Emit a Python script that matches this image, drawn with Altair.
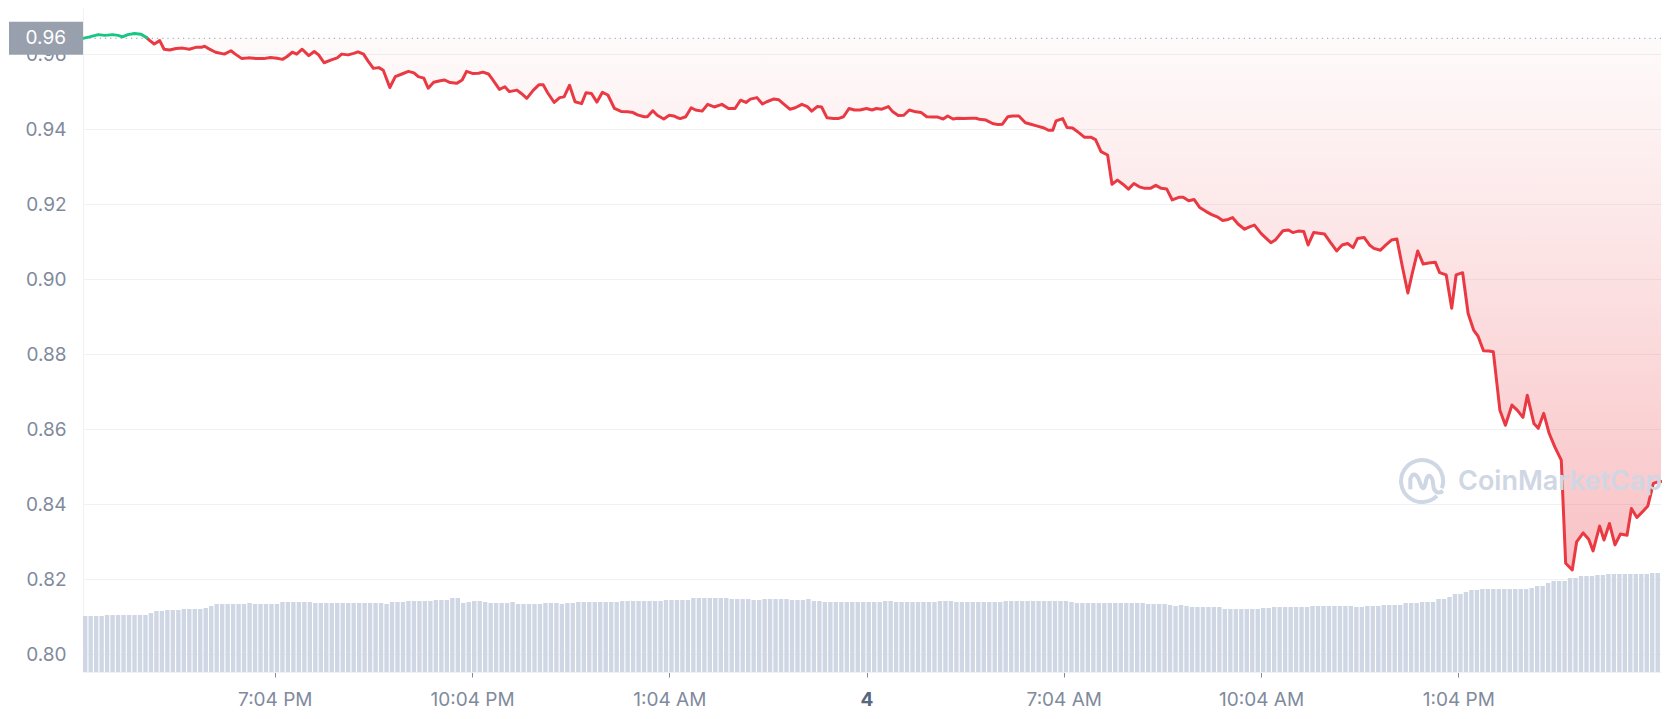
import json
import numpy as np
import pandas as pd
import altair as alt

# ---------------- data ----------------
START = "2022-05-03 16:09:00"          # left edge of the 24h window
END = "2022-05-04 16:09:00"            # right edge
REF_PRICE = 0.9642                     # opening price (dotted line / grey tag)

PRICE_MINUTES = [
    0, 6, 14, 20, 27, 32, 36, 41, 47, 53, 58, 61, 65, 70, 74, 79, 85, 91, 97, 103,
    108, 111, 115, 121, 129, 135, 139, 145, 151, 158, 165, 171, 177, 182, 186, 191,
    195, 200, 206, 211, 215, 220, 226, 232, 236, 242, 247, 251, 256, 260, 265, 270,
    274, 280, 285, 291, 297, 302, 306, 311, 315, 320, 326, 330, 335, 341, 346, 350,
    356, 361, 365, 370, 374, 380, 385, 389, 396, 400, 405, 411, 416, 420, 424, 430,
    435, 439, 444, 449, 455, 459, 464, 469, 474, 479, 485, 491, 497, 502, 506, 512,
    515, 520, 524, 530, 535, 539, 542, 545, 550, 555, 559, 565, 570, 576, 583, 589,
    595, 600, 605, 609, 615, 620, 624, 630, 635, 639, 645, 650, 656, 661, 665, 670,
    674, 679, 685, 689, 694, 699, 704, 709, 715, 720, 724, 729, 735, 739, 744, 749,
    754, 760, 765, 770, 776, 780, 785, 789, 794, 798, 804, 810, 815, 818, 824, 830,
    835, 839, 844, 848, 854, 860, 865, 871, 877, 881, 885, 888, 894, 898, 903, 909,
    914, 920, 924, 929, 935, 939, 944, 949, 954, 959, 964, 969, 974, 979, 984, 989,
    994, 1000, 1004, 1009, 1014, 1019, 1025, 1030, 1035, 1040, 1045, 1049, 1054, 1060,
    1065, 1069, 1075, 1080, 1084, 1088, 1095, 1100, 1104, 1109, 1114, 1118, 1123, 1128,
    1133, 1138, 1144, 1149, 1154, 1159, 1163, 1169, 1174, 1178, 1184, 1189, 1194, 1199,
    1204, 1209, 1213, 1218, 1223, 1228, 1234, 1238, 1244, 1249, 1253, 1259, 1264, 1269,
    1273, 1278, 1283, 1287, 1293, 1298, 1304, 1309, 1314, 1318, 1324, 1328, 1333, 1338,
    1343, 1349, 1353, 1359, 1363, 1369, 1374, 1378, 1384, 1388, 1393, 1398, 1403, 1409,
    1413, 1418, 1423, 1428, 1433, 1437, 1440,
]
PRICE_VALUES = [
    0.9642, 0.9646, 0.9652, 0.9650, 0.9652, 0.9650, 0.9646, 0.9652, 0.9655, 0.9653,
    0.9644, 0.9636, 0.9627, 0.9636, 0.9613, 0.9611, 0.9615, 0.9616, 0.9613, 0.9618,
    0.9618, 0.9621, 0.9614, 0.9605, 0.9600, 0.9609, 0.9600, 0.9588, 0.9590, 0.9588,
    0.9588, 0.9591, 0.9589, 0.9586, 0.9593, 0.9605, 0.9600, 0.9613, 0.9596, 0.9607,
    0.9598, 0.9577, 0.9584, 0.9590, 0.9600, 0.9598, 0.9602, 0.9606, 0.9600, 0.9582,
    0.9562, 0.9564,
    0.9557, 0.9511, 0.9540, 0.9547, 0.9554, 0.9550, 0.9540, 0.9536, 0.9509, 0.9525,
    0.9529, 0.9531, 0.9524, 0.9522, 0.9531, 0.9554, 0.9548, 0.9549, 0.9552, 0.9547,
    0.9531, 0.9506, 0.9513, 0.9500, 0.9504, 0.9495, 0.9482, 0.9504, 0.9518, 0.9518,
    0.9497, 0.9471, 0.9484, 0.9486, 0.9517, 0.9473, 0.9468, 0.9497, 0.9495, 0.9472,
    0.9498, 0.9491, 0.9455, 0.9447, 0.9446, 0.9444, 0.9438, 0.9433, 0.9433, 0.9449,
    0.9437, 0.9427, 0.9437, 0.9435, 0.9431,
    0.9428, 0.9433, 0.9457, 0.9451, 0.9448, 0.9466, 0.9459, 0.9466, 0.9455, 0.9455,
    0.9477, 0.9471, 0.9480, 0.9484, 0.9467, 0.9473, 0.9480, 0.9478, 0.9468, 0.9453,
    0.9457, 0.9466, 0.9460, 0.9448, 0.9460, 0.9459, 0.9430, 0.9428, 0.9428, 0.9433,
    0.9455, 0.9451, 0.9451, 0.9455, 0.9451, 0.9455, 0.9453, 0.9460, 0.9446, 0.9436,
    0.9437, 0.9451, 0.9446, 0.9444, 0.9433, 0.9432, 0.9432, 0.9427, 0.9435, 0.9427,
    0.9429, 0.9428, 0.9429, 0.9429,
    0.9426, 0.9424, 0.9415, 0.9412, 0.9413, 0.9433, 0.9435, 0.9435, 0.9417, 0.9413,
    0.9408, 0.9403, 0.9397, 0.9397, 0.9422, 0.9428, 0.9404, 0.9403, 0.9390, 0.9378,
    0.9378, 0.9372, 0.9340, 0.9331, 0.9253, 0.9264, 0.9253, 0.9240, 0.9255, 0.9246,
    0.9242, 0.9242, 0.9250, 0.9242, 0.9240, 0.9211, 0.9218, 0.9218, 0.9209, 0.9212,
    0.9191, 0.9180, 0.9172, 0.9166, 0.9156, 0.9159, 0.9164, 0.9147, 0.9133, 0.9140,
    0.9144, 0.9122, 0.9108, 0.9097, 0.9104,
    0.9129, 0.9131, 0.9124, 0.9128, 0.9127, 0.9091, 0.9124, 0.9122, 0.9120, 0.9099,
    0.9075, 0.9091, 0.9095, 0.9084, 0.9108, 0.9111, 0.9091, 0.9082, 0.9077, 0.9091,
    0.9104, 0.9107, 0.9033, 0.8963, 0.9015, 0.9075, 0.9040, 0.9043, 0.9045, 0.9017,
    0.9011, 0.8922, 0.9011, 0.9017, 0.8908, 0.8864, 0.8848, 0.8809, 0.8808, 0.8806,
    0.8650, 0.8610, 0.8664, 0.8650, 0.8631, 0.8690, 0.8615, 0.8602, 0.8642, 0.8588,
    0.8553, 0.8517, 0.8242, 0.8224, 0.8299, 0.8323, 0.8306, 0.8275, 0.8341, 0.8304,
    0.8348, 0.8291, 0.8320, 0.8317, 0.8388, 0.8364, 0.8379, 0.8395, 0.8455, 0.8459,
    0.8460,
]

# relative trading volume, one bar every 5 minutes (288 bars)
VOLUME = [
    56, 56, 56, 56, 57, 57, 57, 57, 57, 57, 57, 57, 59, 61, 61, 62, 62, 62, 63, 63, 63, 63, 64, 66,
    68, 68, 68, 68, 68, 68, 69, 68, 68, 68, 68, 68, 70, 70, 70, 70, 70, 70,
    69, 69, 69, 69, 69, 69, 69, 69, 69, 69, 69, 69, 69, 68, 70, 70, 70,
    71, 71, 71, 71, 71, 72, 72, 72, 74, 74, 69, 70, 71, 71, 70, 69, 69, 69, 69, 70,
    68, 68, 68, 68, 68, 69, 69, 69, 68, 69, 69, 70, 70, 70, 70, 70, 70, 70, 70,
    71, 71, 71, 71, 71, 71, 71, 71,
    72, 72, 72, 72, 72, 74, 74, 74, 74, 74, 74, 74, 73, 73, 73, 73, 72, 72,
    73, 73, 73, 73, 73, 72, 72, 72, 73, 71, 71,
    70, 70, 70, 70, 70, 70, 70, 70, 70, 70, 70, 71, 71, 70, 70, 70, 70, 70, 70, 70, 70,
    71, 71, 71, 70, 70, 70, 70, 70, 70, 70, 70, 70,
    71, 71, 71, 71, 71, 71, 71, 71, 71, 71, 71, 71, 70,
    69, 69, 69, 69, 69, 69, 69, 69, 69, 69, 69, 69, 69, 68, 68, 68, 68, 67, 66, 67, 66,
    65, 65, 65, 65, 65, 65, 63, 63, 63, 63, 63, 63, 63, 64, 64,
    65, 65, 65, 65, 65, 65, 65, 66, 66, 66, 66, 66, 66, 66, 66, 65, 65, 66, 66, 66,
    67, 67, 67, 67, 69, 69, 69, 70, 70, 70,
    73, 73, 75, 78, 78, 80, 82, 82, 83, 83, 83, 83, 83, 83, 83, 83, 83, 84, 86, 86, 89,
    91, 91, 91, 94, 94, 96, 96, 96, 97, 97, 98, 98, 98, 98, 98, 98, 98, 98, 99, 99,
]
VOLUME_STEP_MIN = 5

TICK_TIMES = ["2022-05-03 19:04", "2022-05-03 22:04", "2022-05-04 01:04", "2022-05-04 04:04",
              "2022-05-04 07:04", "2022-05-04 10:04", "2022-05-04 13:04"]
TICK_LABELS = ["7:04 PM", "10:04 PM", "1:04 AM", "4", "7:04 AM", "10:04 AM", "1:04 PM"]
PRICE_TICKS = [0.80, 0.82, 0.84, 0.86, 0.88, 0.90, 0.92, 0.94, 0.96]
Y_DOMAIN = [0.7952, 0.9723]

# ---------------- styling ----------------
RED = "#ea3943"
GREEN = "#16c784"
GREY_TXT = "#808a9d"
GRID = "#eff2f5"
FONT = "Inter"
W, H = 1578, 664

start = pd.Timestamp(START)
end = pd.Timestamp(END)

df = pd.DataFrame({"minute": PRICE_MINUTES, "price": PRICE_VALUES})
df["time"] = start + pd.to_timedelta(df["minute"], unit="m")
below = np.where(df["price"].values < REF_PRICE)[0]
split = int(below[0])
green_df = df.iloc[:split][["time", "price"]]
red_df = df.iloc[split - 1:][["time", "price"]]
area_df = df[["time", "price"]]

vol_df = pd.DataFrame({"volume": VOLUME})
vol_df["time"] = start + pd.to_timedelta(np.arange(len(VOLUME)) * VOLUME_STEP_MIN, unit="m")
vol_df["time_end"] = vol_df["time"] + pd.to_timedelta(4, unit="m")

ref_df = pd.DataFrame({"ref": [REF_PRICE]})


def dt(ts):
    t = pd.Timestamp(ts)
    return alt.DateTime(year=t.year, month=t.month, date=t.day, hours=t.hour, minutes=t.minute)


x_scale = alt.Scale(domain=[dt(start), dt(end)])
y_scale = alt.Scale(domain=Y_DOMAIN, nice=False, zero=False)

keys = [pd.Timestamp(t).strftime("%H:%M") for t in TICK_TIMES]
label_expr = (f"{json.dumps(TICK_LABELS)}[indexof({json.dumps(keys)}, "
              f"timeFormat(datum.value, '%H:%M'))]")
bold_test = "timeFormat(datum.value, '%H:%M') == '04:04'"

X_AXIS = alt.Axis(
    values=[dt(t) for t in TICK_TIMES], labelExpr=label_expr, title=None, grid=False,
    domain=True, domainColor=GRID, ticks=True, tickColor=GREY_TXT, tickSize=5,
    labelFont=FONT, labelFontSize=19, labelPadding=13, labelFlush=False,
    labelColor={"condition": {"test": bold_test, "value": "#58667e"}, "value": GREY_TXT},
    labelFontWeight={"condition": {"test": bold_test, "value": "bold"}, "value": "normal"},
)
Y_AXIS = alt.Axis(
    values=PRICE_TICKS, format=".2f", title=None, grid=True, gridColor=GRID,
    ticks=False, tickSize=0, domain=True, domainColor=GRID,
    labelFont=FONT, labelFontSize=19, labelColor=GREY_TXT, labelPadding=17,
)

X = alt.X("time:T", scale=x_scale, axis=X_AXIS)

volume = alt.Chart(vol_df).mark_rect(color="#cfd6e4").encode(
    x=X,
    x2="time_end:T",
    y=alt.Y("volume:Q", scale=alt.Scale(domain=[0, H]), axis=None),
    y2=alt.datum(0),
)

gradient = alt.LinearGradient(
    gradient="linear", x1=0, x2=0, y1=0, y2=1,
    stops=[alt.GradientStop(color="rgba(234,57,67,0.02)", offset=0),
           alt.GradientStop(color="rgba(234,57,67,0.31)", offset=1)],
)
area = alt.Chart(area_df).mark_area(color=gradient).encode(
    x=X,
    y=alt.Y("price:Q", scale=y_scale, axis=Y_AXIS),
    y2=alt.datum(REF_PRICE),
)

rule = alt.Chart(ref_df).mark_rule(color="#a6b0c3", strokeDash=[1.2, 4], strokeWidth=1.2).encode(
    y=alt.Y("ref:Q", scale=y_scale, axis=Y_AXIS),
)

red_line = alt.Chart(red_df).mark_line(color=RED, strokeWidth=3, strokeJoin="round",
                                       strokeCap="round").encode(
    x=X, y=alt.Y("price:Q", scale=y_scale, axis=Y_AXIS))
green_line = alt.Chart(green_df).mark_line(color=GREEN, strokeWidth=3, strokeJoin="round",
                                           strokeCap="round").encode(
    x=X, y=alt.Y("price:Q", scale=y_scale, axis=Y_AXIS))

tag = alt.Chart(ref_df).mark_rect(color="#98a0ad", yOffset=-16.5, y2Offset=16.5).encode(
    x=alt.value(-74), x2=alt.value(0),
    y=alt.Y("ref:Q", scale=y_scale, axis=Y_AXIS), y2="ref:Q",
)
tag_text = alt.Chart(ref_df).mark_text(
    align="right", baseline="middle", color="white", font=FONT, fontSize=19
).encode(
    x=alt.value(-17),
    y=alt.Y("ref:Q", scale=y_scale, axis=Y_AXIS),
    text=alt.Text("ref:Q", format=".2f"),
)

LOGO_PATH = ("M 0.85 0.31 A 0.9 0.9 0 1 0 0.64 0.64 "
             "M -0.5 0.35 L -0.5 -0.1 Q -0.35 -0.45 -0.15 -0.1 L -0.02 0.25 "
             "Q 0.1 0.45 0.18 -0.05 Q 0.3 -0.4 0.45 -0.05 L 0.5 0.3 Q 0.62 0.62 0.9 0.42")
wm_df = pd.DataFrame({"name": ["CoinMarketCap"]})
logo = alt.Chart(wm_df).mark_point(
    shape=LOGO_PATH, filled=False, stroke="#cfd6e4", strokeWidth=4, size=2180, opacity=1
).encode(x=alt.value(1339), y=alt.value(473))
wm_text = alt.Chart(wm_df).mark_text(
    align="left", baseline="middle", font=FONT, fontSize=27, fontWeight=600, color="#cfd6e4"
).encode(x=alt.value(1375), y=alt.value(474), text="name:N")

price_layers = alt.layer(area, rule, red_line, green_line, logo, wm_text, tag, tag_text)

chart = alt.layer(volume, price_layers).resolve_scale(y="independent").properties(
    width=W, height=H,
    autosize=alt.AutoSizeParams(type="none"),
    padding={"left": 75, "top": 0, "right": 1, "bottom": 38},
    background="white",
).configure_view(strokeWidth=0)

chart.save("out.html", embed_options={"renderer": "svg", "actions": False})
